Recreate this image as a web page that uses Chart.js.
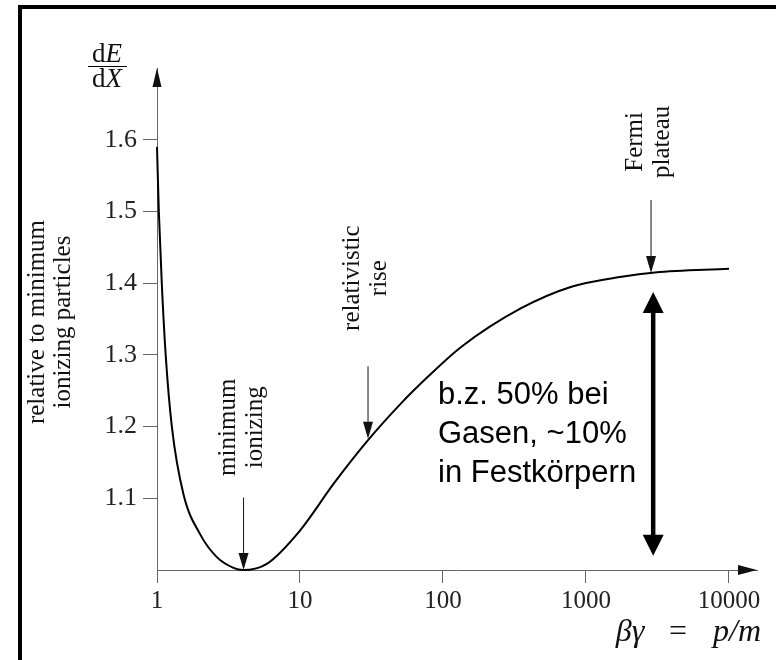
<!DOCTYPE html>
<html>
<head>
<meta charset="utf-8">
<script src="https://cdn.jsdelivr.net/npm/chart.js@4.4.1/dist/chart.umd.min.js"></script>
<style>
  html, body { margin: 0; padding: 0; background: #fff; }
</style>
</head>
<body>
<canvas id="dedx" width="776" height="660"></canvas>
<script>
// mean energy loss relative to minimum ionizing particles, vs beta*gamma
const betaGamma = [1, 1.03, 1.08, 1.15, 1.27, 1.53, 2.0, 2.62, 3.43, 4.0, 5.9, 10, 17.3, 29.6, 50.7, 78, 134, 352, 791, 1775, 3040, 10000];
const dEdX = [1.59, 1.5, 1.4, 1.3, 1.2, 1.106, 1.05, 1.018, 1.003, 1.0, 1.009, 1.055, 1.121, 1.18, 1.232, 1.269, 1.311, 1.365, 1.395, 1.409, 1.415, 1.42];
const xTicks = [1, 10, 100, 1000, 10000];
const yTicks = [1.1, 1.2, 1.3, 1.4, 1.5, 1.6];

// small pointer arrows onto the curve (data units)
const pointerX = [4.03, 29.9, 2850];
const pointerFrom = [1.101, 1.284, 1.516];
const pointerTo = [1.0, 1.183, 1.414];
const pointerText = [["minimum", "ionizing"], ["relativistic", "rise"], ["Fermi", "plateau"]];
const pointerTextY = [1.199, 1.407, 1.597];

// rise from minimum up to the plateau
const riseX = 2950;
const riseFrom = 1.02;
const riseTo = 1.3876;
const riseText = ["b.z. 50% bei", "Gasen, ~10%", "in Festkörpern"];

const SERIF = "'Liberation Serif', 'DejaVu Serif', serif";
const SANS = "'Liberation Sans', Arial, sans-serif";

function head(ctx, tx, ty, dir, len, half) {
  // dir: 1 = pointing down, -1 = pointing up
  ctx.beginPath();
  ctx.moveTo(tx, ty);
  ctx.lineTo(tx - half, ty - dir * len);
  ctx.lineTo(tx + half, ty - dir * len);
  ctx.closePath();
  ctx.fill();
}

function drawRun(ctx, parts, x, y, align) {
  // parts: [text, italic, font]
  let total = 0;
  const widths = parts.map(p => {
    ctx.font = (p[1] ? "italic " : "") + p[2];
    const w = ctx.measureText(p[0]).width;
    total += w;
    return w;
  });
  let cx = align === "right" ? x - total : align === "center" ? x - total / 2 : x;
  ctx.textAlign = "left";
  parts.forEach((p, i) => {
    ctx.font = (p[1] ? "italic " : "") + p[2];
    ctx.fillText(p[0], cx, y);
    cx += widths[i];
  });
}

const annotate = {
  id: "annotate",
  afterDraw(chart) {
    const { ctx, chartArea: area, scales } = chart;
    const sx = scales.x, sy = scales.y;
    ctx.save();

    // frame
    ctx.strokeStyle = "#000";
    ctx.lineWidth = 4;
    ctx.strokeRect(20, 7, 800, 700);

    // axis arrowheads
    ctx.fillStyle = "#111";
    head(ctx, area.left, area.top, -1, 19, 4.5);
    ctx.beginPath();
    ctx.moveTo(area.right, area.bottom);
    ctx.lineTo(area.right - 19, area.bottom - 5);
    ctx.lineTo(area.right - 19, area.bottom + 5);
    ctx.closePath();
    ctx.fill();

    // pointers with rotated captions
    ctx.strokeStyle = "#111";
    ctx.lineWidth = 1;
    pointerX.forEach((v, i) => {
      const px = sx.getPixelForValue(v);
      const y0 = sy.getPixelForValue(pointerFrom[i]);
      const y1 = sy.getPixelForValue(pointerTo[i]);
      ctx.beginPath();
      ctx.moveTo(px, y0);
      ctx.lineTo(px, y1 - 10);
      ctx.stroke();
      head(ctx, px, y1, 1, 17, 5);

      const lines = pointerText[i];
      ctx.save();
      ctx.translate(px - 2, sy.getPixelForValue(pointerTextY[i]));
      ctx.rotate(-Math.PI / 2);
      ctx.font = "25px " + SERIF;
      ctx.textAlign = "center";
      ctx.textBaseline = "middle";
      lines.forEach((t, k) => ctx.fillText(t, 0, (k - (lines.length - 1) / 2) * 27));
      ctx.restore();
    });

    // thick double arrow
    const rx = sx.getPixelForValue(riseX);
    const rTop = sy.getPixelForValue(riseTo);
    const rBot = sy.getPixelForValue(riseFrom);
    ctx.fillStyle = "#000";
    ctx.strokeStyle = "#000";
    ctx.lineWidth = 4.5;
    ctx.beginPath();
    ctx.moveTo(rx, rTop + 18);
    ctx.lineTo(rx, rBot - 18);
    ctx.stroke();
    head(ctx, rx, rTop, -1, 21, 10.5);
    head(ctx, rx, rBot, 1, 21, 10.5);

    // caption of the rise
    ctx.font = "31px " + SANS;
    ctx.textAlign = "left";
    ctx.textBaseline = "alphabetic";
    riseText.forEach((t, k) => ctx.fillText(t, 438, 404 + k * 39));

    // y axis label
    ctx.fillStyle = "#111";
    ctx.save();
    ctx.translate(50, 322);
    ctx.rotate(-Math.PI / 2);
    ctx.font = "25px " + SERIF;
    ctx.textAlign = "center";
    ctx.textBaseline = "middle";
    ctx.fillText("relative to minimum", 0, -13);
    ctx.fillText("ionizing particles", 0, 13);
    ctx.restore();

    // dE/dX fraction
    ctx.textBaseline = "alphabetic";
    const f = "27px " + SERIF;
    drawRun(ctx, [["d", false, f], ["E", true, f]], 107, 62, "center");
    drawRun(ctx, [["d", false, f], ["X", true, f]], 107, 87, "center");
    ctx.lineWidth = 1.2;
    ctx.beginPath();
    ctx.moveTo(88, 66.5);
    ctx.lineTo(127, 66.5);
    ctx.stroke();

    // x axis label: βγ = p/m
    const g = "32px " + SERIF;
    drawRun(ctx, [["βγ", true, g]], 630, 641, "center");
    drawRun(ctx, [["=", false, g]], 678, 641, "center");
    drawRun(ctx, [["p/m", true, g]], 761, 641, "right");

    ctx.restore();
  }
};

new Chart(document.getElementById("dedx"), {
  type: "line",
  data: {
    datasets: [{
      data: betaGamma.map((v, i) => ({ x: v, y: dEdX[i] })),
      borderColor: "#000",
      borderWidth: 2,
      pointRadius: 0,
      cubicInterpolationMode: "monotone",
      fill: false,
      clip: 6
    }]
  },
  options: {
    responsive: false,
    animation: false,
    layout: { padding: { left: 0, top: 68, right: 19, bottom: 0 } },
    plugins: { legend: { display: false }, tooltip: { enabled: false } },
    scales: {
      x: {
        type: "logarithmic",
        min: 1,
        max: 15700,
        afterBuildTicks: s => { s.ticks = xTicks.map(v => ({ value: v })); },
        afterFit: s => { s.height = 90; },
        border: { color: "#666", width: 1 },
        grid: { drawOnChartArea: false, tickLength: 13, color: "#666" },
        ticks: {
          autoSkip: false,
          maxRotation: 0,
          padding: 3,
          color: "#222",
          font: { family: SERIF, size: 25 },
          callback: v => String(v)
        }
      },
      y: {
        min: 1.0,
        max: 1.7,
        afterBuildTicks: s => { s.ticks = yTicks.map(v => ({ value: v })); },
        afterFit: s => { s.width = 157; },
        border: { color: "#666", width: 1 },
        grid: { drawOnChartArea: false, tickLength: 14, color: "#666" },
        ticks: {
          padding: 6,
          color: "#222",
          font: { family: SERIF, size: 26 },
          callback: v => v.toFixed(1)
        }
      }
    }
  },
  plugins: [annotate]
});
</script>
</body>
</html>
